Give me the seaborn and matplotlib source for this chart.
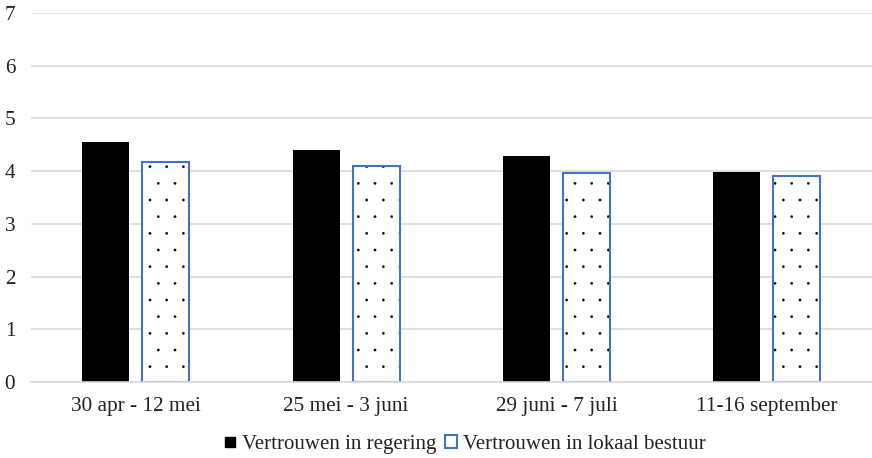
import matplotlib
matplotlib.use("Agg")
import matplotlib.pyplot as plt
import matplotlib.colors as mcolors
import matplotlib.hatch as mhatch
from matplotlib.patches import Patch
from matplotlib.lines import Line2D
import seaborn as sns
import pandas as pd

periods = ["30 apr - 12 mei", "25 mei - 3 juni", "29 juni - 7 juli", "11-16 september"]
regering = [4.55, 4.40, 4.29, 3.98]
lokaal = [4.17, 4.09, 3.97, 3.90]
series = ["Vertrouwen in regering", "Vertrouwen in lokaal bestuur"]

df = pd.DataFrame({
    "period": periods * 2,
    "value": regering + lokaal,
    "series": [series[0]] * 4 + [series[1]] * 4,
})

sns.set_style("white")
plt.rcParams["font.family"] = ["Liberation Serif", "DejaVu Serif"]
plt.rcParams["hatch.linewidth"] = 0.2
mhatch.SmallFilledCircles.size = 0.07

fig = plt.figure(figsize=(8.72, 4.58), dpi=100)
ax = fig.add_axes([0.035, 0.166, 0.965, 0.806])

blue = "#4472C4"
sns.barplot(data=df, x="period", y="value", hue="series", order=periods,
            hue_order=series, palette=["black", "white"], width=0.571,
            gap=0.217, ax=ax, legend=False, saturation=1)

for p in ax.containers[0]:
    p.set_edgecolor("none")
    p.set_linewidth(0)
for p in ax.containers[1]:
    p.set_hatch(".")
    p.set_edgecolor(blue)
    p.set_linewidth(1.5)
    p._hatch_color = mcolors.to_rgba("black")

ax.set_ylim(0, 7)
ax.set_xlim(-0.5, 3.5)
ax.set_yticks(range(0, 8))
ax.yaxis.grid(True, color="#D9D9D9", linewidth=1.2)
ax.set_axisbelow(True)
for s in ["top", "right", "left"]:
    ax.spines[s].set_visible(False)
ax.spines["bottom"].set_color("#D9D9D9")
ax.spines["bottom"].set_linewidth(1.2)
ax.tick_params(axis="y", length=0, pad=11, labelsize=15.3, colors="#222222")
ax.tick_params(axis="x", length=0, pad=11, labelsize=15.3, colors="#222222")
ax.set_xlabel("")
ax.set_ylabel("")

h1 = Line2D([], [], marker="s", color="black", linestyle="none", markersize=7.5)
h2 = Patch(facecolor="white", edgecolor=blue, hatch=".", linewidth=1.5)
h2._hatch_color = mcolors.to_rgba("black")
fig.legend([h1, h2], series, loc="center", bbox_to_anchor=(0.533, 0.03),
           ncol=2, frameon=False, fontsize=15, handlelength=0.55,
           handleheight=0.55, handletextpad=0.3, columnspacing=0.45,
           labelcolor="#222222")

fig.savefig("out.png", dpi=100)
